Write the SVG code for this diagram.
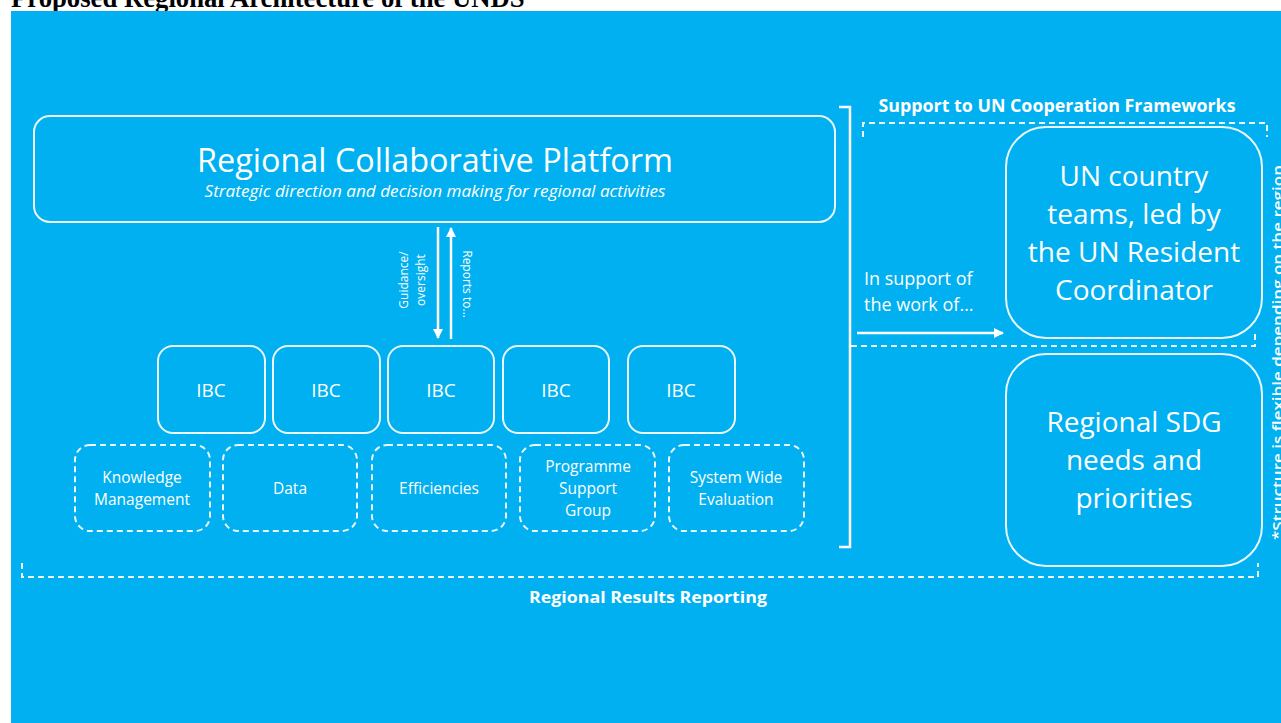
<svg xmlns="http://www.w3.org/2000/svg" width="1281" height="723" viewBox="0 0 1281 723">
<defs>
<style>
.bx{fill:none;stroke:#EAF8FE;stroke-width:2}
.ds{fill:none;stroke:#EAF8FE;stroke-width:2;stroke-dasharray:6 4}
.ln{fill:none;stroke:#FFFFFF;stroke-width:2.5}
.t{font-family:"Open Sans","Noto Sans",sans-serif;fill:#FFFFFF;text-anchor:middle}
.tb{font-family:"Open Sans","Noto Sans",sans-serif;fill:#FFFFFF;text-anchor:middle;font-weight:bold}
</style>
<marker id="ah" viewBox="0 0 10 10" refX="9" refY="5" markerWidth="4" markerHeight="4" orient="auto" markerUnits="strokeWidth">
<path d="M0,0 L10,5 L0,10 z" fill="#FFFFFF"/>
</marker>
</defs>
<rect width="1281" height="723" fill="#FFFFFF"/>
<text x="11" y="7" font-family="Liberation Serif,serif" font-weight="bold" font-size="26.7" fill="#000000">Proposed Regional Architecture of the UNDS</text>
<rect x="11" y="11" width="1270" height="712" fill="#00B0F0"/>

<g id="rcp">
<rect class="bx" x="34" y="116" width="801" height="106" rx="16"/>
<text class="t" x="435" y="172" font-size="33" textLength="476" lengthAdjust="spacingAndGlyphs">Regional Collaborative Platform</text>
<text class="t" x="435" y="197" font-size="15.5" font-style="italic" font-weight="500" textLength="461" lengthAdjust="spacingAndGlyphs">Strategic direction and decision making for regional activities</text>
</g>

<g id="ibc1"><rect class="bx" x="158" y="346" width="107" height="87" rx="15"/><text class="t" x="211" y="397" font-size="19">IBC</text></g>
<g id="ibc2"><rect class="bx" x="273" y="346" width="107" height="87" rx="15"/><text class="t" x="326" y="397" font-size="19">IBC</text></g>
<g id="ibc3"><rect class="bx" x="388" y="346" width="106" height="87" rx="15"/><text class="t" x="441" y="397" font-size="19">IBC</text></g>
<g id="ibc4"><rect class="bx" x="503" y="346" width="106" height="87" rx="15"/><text class="t" x="556" y="397" font-size="19">IBC</text></g>
<g id="ibc5"><rect class="bx" x="628" y="346" width="107" height="87" rx="15"/><text class="t" x="681" y="397" font-size="19">IBC</text></g>

<g id="km"><rect class="ds" x="75" y="445" width="135" height="86" rx="15"/><text class="t" x="142" y="483" font-size="15.5">Knowledge</text><text class="t" x="142" y="505" font-size="15.5">Management</text></g>
<g id="data"><rect class="ds" x="223" y="445" width="134" height="86" rx="15"/><text class="t" x="290" y="494" font-size="15.5">Data</text></g>
<g id="eff"><rect class="ds" x="372" y="445" width="134" height="86" rx="15"/><text class="t" x="439" y="494" font-size="15.5">Efficiencies</text></g>
<g id="psg"><rect class="ds" x="520" y="445" width="135" height="86" rx="15"/><text class="t" x="588" y="472" font-size="15.5">Programme</text><text class="t" x="588" y="494" font-size="15.5">Support</text><text class="t" x="588" y="516" font-size="15.5">Group</text></g>
<g id="swe"><rect class="ds" x="669" y="445" width="135" height="86" rx="15"/><text class="t" x="736" y="483" font-size="15.5">System Wide</text><text class="t" x="736" y="505" font-size="15.5">Evaluation</text></g>

<g id="unct"><rect class="bx" x="1006" y="127" width="256" height="211" rx="40"/>
<text class="t" x="1134" y="186" font-size="28">UN country</text>
<text class="t" x="1134" y="224" font-size="28">teams, led by</text>
<text class="t" x="1134" y="262" font-size="28">the UN Resident</text>
<text class="t" x="1134" y="300" font-size="28">Coordinator</text></g>

<g id="sdg"><rect class="bx" x="1006" y="354" width="256" height="212" rx="40"/>
<text class="t" x="1134" y="432" font-size="28">Regional SDG</text>
<text class="t" x="1134" y="470" font-size="28">needs and</text>
<text class="t" x="1134" y="508" font-size="28">priorities</text></g>

<g id="connectors">
<line class="ln" x1="438" y1="227" x2="438" y2="338" marker-end="url(#ah)"/>
<line class="ln" x1="451" y1="339" x2="451" y2="228" marker-end="url(#ah)"/>
<text class="t" font-size="12" transform="translate(408,280) rotate(-90)">Guidance/</text>
<text class="t" font-size="12" transform="translate(425,280) rotate(-90)">oversight</text>
<text class="t" font-size="12" transform="translate(463,284) rotate(90)">Reports to…</text>
<path class="ln" d="M839,107 H850 V547 H839"/>
<path class="ds" d="M863,137 V123 H1267 V137"/>
<path class="ds" d="M851,346 H1255 V330"/>
<line class="ln" x1="857" y1="333" x2="1003" y2="333" marker-end="url(#ah)"/>
<text x="864" y="285" font-family="Open Sans,sans-serif" font-size="18" fill="#FFFFFF">In support of</text>
<text x="864" y="311" font-family="Open Sans,sans-serif" font-size="18" fill="#FFFFFF">the work of…</text>
<text class="tb" x="1057" y="112" font-size="17" textLength="357" lengthAdjust="spacingAndGlyphs">Support to UN Cooperation Frameworks</text>
<path class="ds" d="M22,563 V577 H1258 V563"/>
<text class="tb" x="648" y="603" font-size="16" font-family="Liberation Sans,sans-serif" textLength="238" lengthAdjust="spacingAndGlyphs">Regional Results Reporting</text>
<text font-family="Open Sans,sans-serif" font-weight="600" font-size="15" fill="#FFFFFF" textLength="375" lengthAdjust="spacingAndGlyphs" transform="translate(1283,540) rotate(-90)">*Structure is flexible depending on the region</text>
</g>
</svg>
